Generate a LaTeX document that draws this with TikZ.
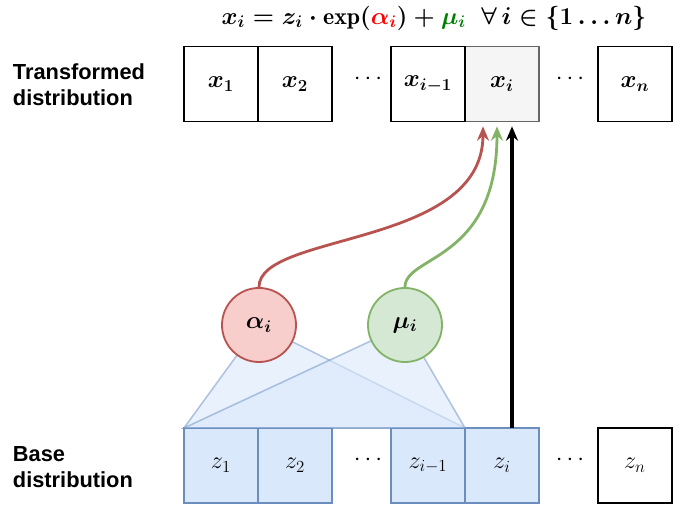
\documentclass[tikz,border=0pt]{standalone}
\usepackage{amsmath}
\usepackage{bm}
\usepackage{fontspec}
\newfontfamily\labelfont{Liberation Sans}
\usetikzlibrary{positioning,arrows.meta}
\definecolor{redline}{HTML}{B85450}
\definecolor{redfill}{HTML}{F8CECC}
\definecolor{greenline}{HTML}{82B366}
\definecolor{greenfill}{HTML}{D5E8D4}
\definecolor{blueline}{HTML}{6C8EBF}
\definecolor{bluefill}{HTML}{DAE8FC}
\definecolor{grayline}{HTML}{666666}
\definecolor{grayfill}{HTML}{F5F5F5}
\definecolor{eqgreen}{HTML}{008000}
\tikzset{
    >=Stealth,
    every edge/.style={draw,->,>=Stealth,thick}
}

\begin{document}
\begin{tikzpicture}[x=0.025cm,y=-0.025cm,
                    cell/.style={draw,line width=1.3pt,minimum width=1.85cm,minimum height=1.875cm,
                                 inner sep=0pt,outer sep=0pt,font=\fontsize{17}{20}\selectfont},
                    xcell/.style={cell,fill=white},
                    zcell/.style={cell,draw=blueline,fill=bluefill},
                    param/.style={circle,line width=1.3pt,minimum size=1.85cm,inner sep=0pt,
                                  font=\fontsize{17}{20}\selectfont},
                    lab/.style={anchor=west,align=left,font=\labelfont\bfseries\fontsize{15.5}{18.5}\selectfont},
                    eq/.style={font=\fontsize{17}{21}\selectfont\boldmath},
                    flow/.style={->,line width=2pt,shorten >=0.12cm,
                                 >={Stealth[length=0.36cm,width=0.3cm]}},
                    tri/.style={fill=bluefill,fill opacity=0.6,draw=blueline,draw opacity=0.5,line width=1.1pt}]

\useasboundingbox (0,0) rectangle (680,510);

% Equation
\node[eq] (eqn) at (434,18) {$x_i = z_i \cdot \exp(\textcolor{red}{\alpha_i}) + \textcolor{eqgreen}{\mu_i} \mkern10mu \forall\, i \in \{1 \ldots n\}$};

% Labels
\node[lab] (labtop) at (8,85) {Transformed\\distribution};
\node[lab] (labbot) at (8,467) {Base\\distribution};

% Transformed cells
\node[xcell] (x1) at (221,84) {$\bm{x_1}$};
\node[xcell,right=0pt of x1] (x2) {$\bm{x_2}$};
\node[xcell,draw=grayline,fill=grayfill] (xi) at (502,84) {$\bm{x_i}$};
\node[xcell,left=0pt of xi] (xim) {$\bm{x_{i-1}}$};
\node[xcell] (xn) at (635,84) {$\bm{x_n}$};
\node[font=\fontsize{17}{20}\selectfont] (xdots1) at (370,79) {$\cdots$};
\node[font=\fontsize{17}{20}\selectfont] (xdots2) at (572,79) {$\cdots$};

% Base cells
\node[zcell] (z1) at (221,465.5) {$z_1$};
\node[zcell,right=0pt of z1] (z2) {$z_2$};
\node[zcell] (zi) at (502,465.5) {$z_i$};
\node[zcell,left=0pt of zi] (zim) {$z_{i-1}$};
\node[xcell] (zn) at (635,465.5) {$z_n$};
\node[font=\fontsize{17}{20}\selectfont] (zdots1) at (370,460) {$\cdots$};
\node[font=\fontsize{17}{20}\selectfont] (zdots2) at (572,460) {$\cdots$};

% Receptive fields
\coordinate (alphac) at (259,325);
\coordinate (muc) at (405,325);
\path[tri] (alphac) -- (z1.north west) -- (zim.north east) -- cycle;
\path[tri] (muc) -- (z1.north west) -- (zim.north east) -- cycle;

% Parameters
\node[param,draw=redline,fill=redfill] (alpha) at (alphac) {$\bm{\alpha_i}$};
\node[param,draw=greenline,fill=greenfill] (mu) at (muc) {$\bm{\mu_i}$};

% Arrows
\draw[flow,redline] (alpha.north) .. controls (259,232) and (483,248) .. ([xshift=-0.475cm]xi.south);
\draw[flow,greenline] (mu.north) .. controls (405,255) and (497,262) .. ([xshift=-0.125cm]xi.south);
\draw[flow,black,line width=2.2pt] ([xshift=0.25cm]zi.north) -- ([xshift=0.25cm]xi.south);

\end{tikzpicture}
\end{document}
